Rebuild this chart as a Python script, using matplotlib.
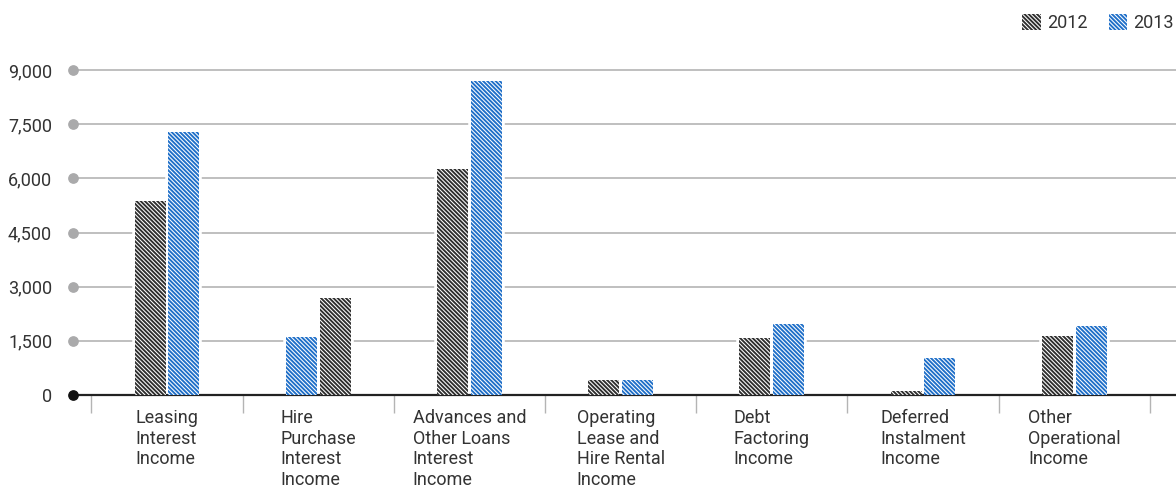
import matplotlib
matplotlib.use("Agg")
import matplotlib.pyplot as plt
from matplotlib.patches import Patch
import numpy as np

plt.rcParams['font.family'] = ['Roboto', 'DejaVu Sans']
plt.rcParams['hatch.linewidth'] = 0.75

# datos
categorias = ["Leasing\nInterest\nIncome",
              "Hire\nPurchase\nInterest\nIncome",
              "Advances and\nOther Loans\nInterest\nIncome",
              "Operating\nLease and\nHire Rental\nIncome",
              "Debt\nFactoring\nIncome",
              "Deferred\nInstalment\nIncome",
              "Other\nOperational\nIncome"]
valores_2012 = [5370, 2680, 6250, 410, 1580, 110, 1640]
valores_2013 = [7290, 1600, 8690, 410, 1970, 1030, 1910]
invertidos = [False, True, False, False, False, False, False]  # en Hire Purchase va 2013 primero
ticks_y = [0, 1500, 3000, 4500, 6000, 7500, 9000]

color_texto = "#333333"
oscuro = "#2e2e2e"
azul = "#1f6fc8"
rayas = "\\\\\\\\\\\\\\\\"
tam = 13

fig = plt.figure(figsize=(11.76, 4.93), dpi=100)
ax = fig.add_axes([73/1176, 98/493, 1 - 73/1176, (395-59.2)/493])

x = np.arange(len(categorias))
ancho = 0.205
desp = 0.112
signo = np.where(invertidos, 1, -1)
x12 = x + signo * desp
x13 = x - signo * desp

def barras(pos, vals, cara):
    # primero un fondo blanco para cortar las lineas de la grilla
    ax.bar(pos, vals, width=ancho, color="white", edgecolor="white", linewidth=4, zorder=2)
    ax.bar(pos, vals, width=ancho, color=cara, edgecolor="white", linewidth=0,
           hatch=rayas, zorder=3)

barras(x12, valores_2012, oscuro)
barras(x13, valores_2013, azul)

ax.set_xlim(-0.622, 6.673)
ax.set_ylim(0, 9300)

for s in ["left", "right", "top"]:
    ax.spines[s].set_visible(False)
ax.spines["bottom"].set_color("#222222")
ax.spines["bottom"].set_linewidth(1.6)

ax.set_yticks(ticks_y)
ax.set_yticklabels([f"{v:,}" for v in ticks_y])
ax.tick_params(axis="y", length=0, pad=15, labelsize=tam, labelcolor=color_texto)
for v in ticks_y[1:]:
    ax.axhline(v, color="#b4b4b4", lw=1.2, zorder=1)
ax.scatter([-0.622] * (len(ticks_y) - 1), ticks_y[1:], s=45, color="#aaaaab",
           clip_on=False, zorder=4)
ax.scatter([-0.622], [0], s=45, color="#111111", clip_on=False, zorder=5)

ax.set_xticks(np.arange(len(categorias) + 1) - 0.5)
ax.set_xticklabels([])
ax.tick_params(axis="x", which="major", length=13, width=1, color="#b4b4b4")
ax.set_xticks(x, minor=True)
ax.set_xticklabels(categorias, minor=True)
ax.tick_params(axis="x", which="minor", length=0, pad=10, labelsize=tam,
               labelcolor=color_texto)
for t in ax.get_xticklabels(minor=True):
    t.set_multialignment("left")
    t.set_linespacing(1.2)
    t.set_verticalalignment("top")

leyenda = [Patch(facecolor=oscuro, edgecolor="white", hatch=rayas, lw=0, label="2012"),
           Patch(facecolor=azul, edgecolor="white", hatch=rayas, lw=0, label="2013")]
fig.legend(handles=leyenda, loc="upper right", bbox_to_anchor=(1.012, 1.005), ncol=2,
           frameon=False, fontsize=tam, handlelength=1.0, handleheight=1.0,
           handletextpad=0.35, columnspacing=1.2, labelcolor=color_texto)

fig.savefig("out.png", dpi=100)
